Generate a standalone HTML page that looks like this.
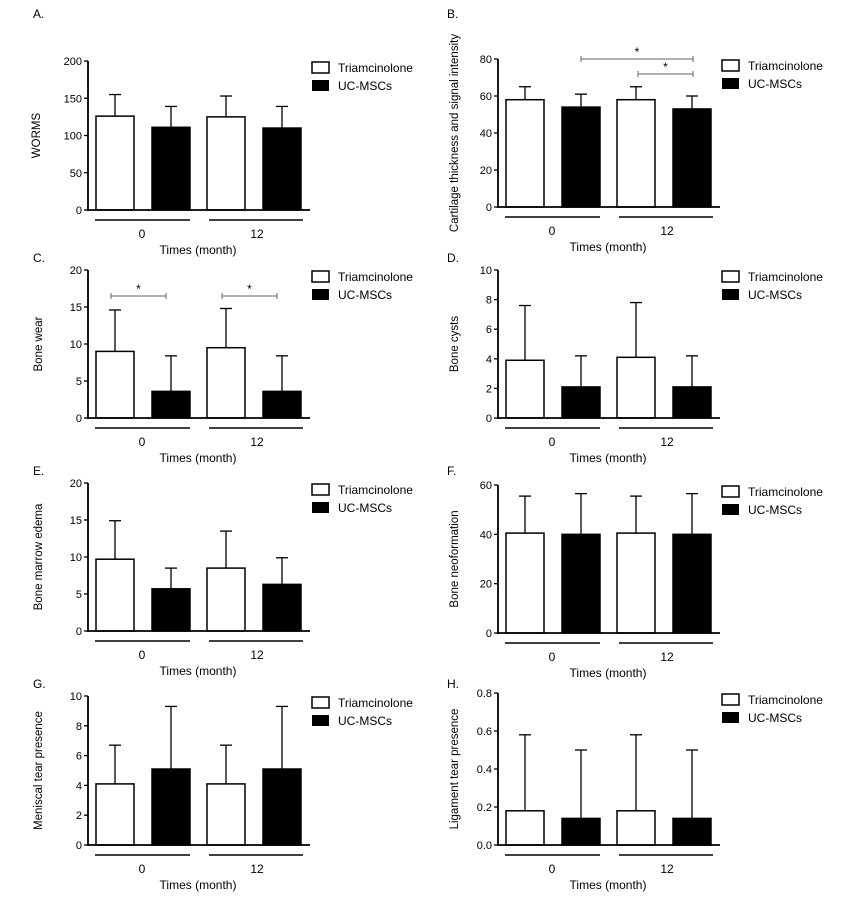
<!DOCTYPE html>
<html><head><style>
body{margin:0;background:#fff}
svg text{font-family:"Liberation Sans",Arial,sans-serif;fill:#000}
</style></head><body>
<svg id="s" width="865" height="900" xmlns="http://www.w3.org/2000/svg"></svg>
<script>
const s=document.getElementById('s');let h='';
function L(x1,y1,x2,y2,w,c){h+=`<line x1="${x1}" y1="${y1}" x2="${x2}" y2="${y2}" stroke="${c||'#000'}" stroke-width="${w||1.5}"/>`;}
function T(x,y,t,sz,a,extra){h+=`<text x="${x}" y="${y}" font-size="${sz||11}" text-anchor="${a||'middle'}" ${extra||''}>${t}</text>`;}
function P(o){
 const ax=o.ax,top=o.top,z=o.z,max=o.max;
 const sc=v=>z-(v/max)*(z-top);
 T(o.lx,o.ly,o.label,12,'start');
 const offs=[8,64,119,175];
 o.vals.forEach((d,i)=>{
  const x=ax+offs[i],y=sc(d[0]),ye=sc(d[0]+d[1]);
  L(x+19,y,x+19,ye,1.3);L(x+13,ye,x+25,ye,1.3);
  h+=`<rect x="${x}" y="${y}" width="38" height="${z-y}" fill="${i%2?'#000':'#fff'}" stroke="#000" stroke-width="1.5"/>`;
 });
 L(ax,top,ax,z+1,1.8);L(ax-1,z,ax+222,z,1.8);
 o.ticks.forEach(t=>{const y=sc(t);L(ax-4,y,ax,y,1.3);T(ax-6,y+4,o.fmt?o.fmt(t):t,11,'end');});
 L(ax+7,z+10,ax+102,z+10,1.5);L(ax+121,z+10,ax+215,z+10,1.5);
 T(ax+54,z+28,'0',12);T(ax+169,z+28,'12',12);T(ax+110,z+44,'Times (month)',12);
 const yl=o.ylx||ax-60, ym=(top+z)/2;
 T(yl,ym,o.yl,11.5,'middle',`transform="rotate(-90 ${yl} ${ym})"`);
 const lx=ax+224,ly=top+1;
 h+=`<rect x="${lx}" y="${ly}" width="17" height="11" fill="#fff" stroke="#000" stroke-width="1.5"/>`;
 h+=`<rect x="${lx}" y="${ly+18}" width="17" height="11" fill="#000"/>`;
 T(lx+26,ly+10,'Triamcinolone',12,'start');T(lx+26,ly+28,'UC-MSCs',12,'start');
 (o.sig||[]).forEach(g=>{L(g[0],g[2],g[1],g[2],1,'#666');L(g[0],g[2]-3,g[0],g[2]+3,1,'#666');L(g[1],g[2]-3,g[1],g[2]+3,1,'#666');T((g[0]+g[1])/2,g[2]-3,'*',12);});
}
P({ax:88,top:61,z:210,max:200,ticks:[0,50,100,150,200],label:'A.',lx:33,ly:18,yl:'WORMS',ylx:40,
 vals:[[126,29],[111,28],[125,28],[110,29]]});
P({ax:498,top:59,z:207,max:80,ticks:[0,20,40,60,80],label:'B.',lx:447,ly:18,yl:'Cartilage thickness and signal intensity',ylx:458,
 vals:[[58,7],[54,7],[58,7],[53,7]],sig:[[581,693,59],[638,693,74]]});
P({ax:88,top:270,z:418,max:20,ticks:[0,5,10,15,20],label:'C.',lx:33,ly:262,yl:'Bone wear',ylx:42,
 vals:[[9,5.6],[3.6,4.8],[9.5,5.3],[3.6,4.8]],sig:[[111,166,296],[222,277,296]]});
P({ax:498,top:270,z:418,max:10,ticks:[0,2,4,6,8,10],label:'D.',lx:447,ly:262,yl:'Bone cysts',ylx:458,
 vals:[[3.9,3.7],[2.1,2.1],[4.1,3.7],[2.1,2.1]]});
P({ax:88,top:483,z:631,max:20,ticks:[0,5,10,15,20],label:'E.',lx:33,ly:475,yl:'Bone marrow edema',ylx:42,
 vals:[[9.7,5.2],[5.7,2.8],[8.5,5],[6.3,3.6]]});
P({ax:498,top:485,z:633,max:60,ticks:[0,20,40,60],label:'F.',lx:447,ly:475,yl:'Bone neoformation',ylx:458,
 vals:[[40.5,15],[40,16.5],[40.5,15],[40,16.5]]});
P({ax:88,top:696,z:845,max:10,ticks:[0,2,4,6,8,10],label:'G.',lx:33,ly:688,yl:'Meniscal tear presence',ylx:42,
 vals:[[4.1,2.6],[5.1,4.2],[4.1,2.6],[5.1,4.2]]});
P({ax:498,top:693,z:845,max:0.8,ticks:[0,0.2,0.4,0.6,0.8],fmt:t=>t.toFixed(1),label:'H.',lx:447,ly:688,yl:'Ligament tear presence',ylx:458,
 vals:[[0.18,0.4],[0.14,0.36],[0.18,0.4],[0.14,0.36]]});
s.innerHTML=h;
</script>
</body></html>
